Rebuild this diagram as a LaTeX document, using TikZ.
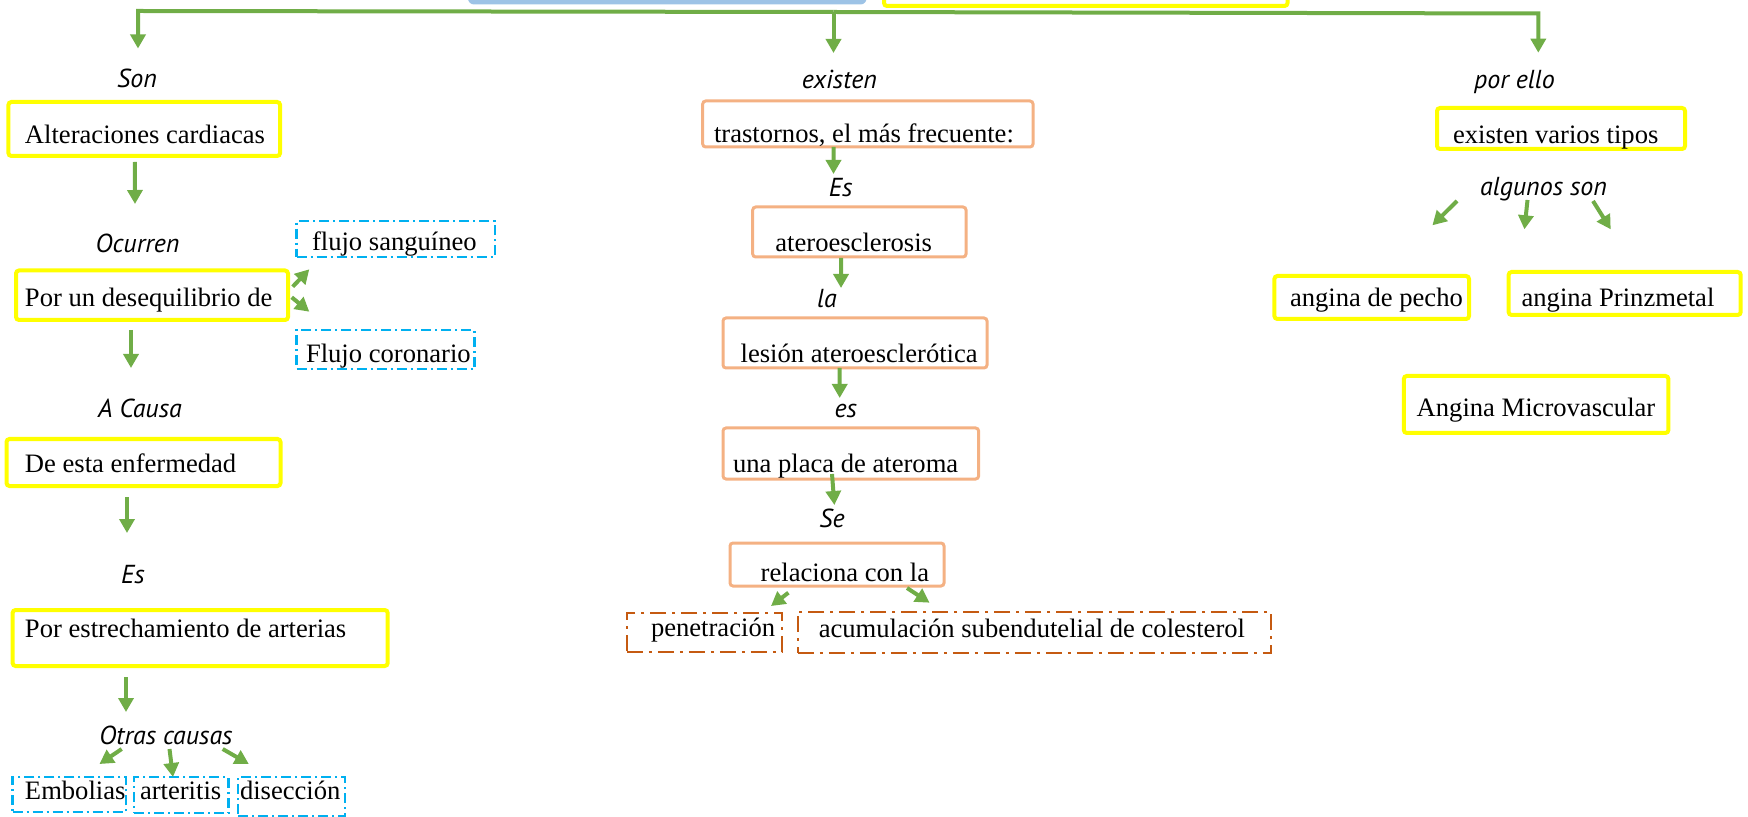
\documentclass[tikz,border=0pt]{standalone}
\usepackage{fontspec}
\setmainfont{Liberation Serif}
\newfontfamily\handfont{PT Sans}
\usetikzlibrary{arrows.meta,calc}
\definecolor{mapyellow}{HTML}{FFFF00}
\definecolor{maporange}{HTML}{F4B183}
\definecolor{mapdkorange}{HTML}{C55A11}
\definecolor{mapblue}{HTML}{00B0F0}
\definecolor{maptitle}{HTML}{9DC3E6}
\definecolor{mapgreen}{HTML}{70AD47}
\newcommand\boxtext[2]{\makebox[#1][l]{#2}}

\begin{document}
\begin{tikzpicture}[x=0.5pt,y=-0.5pt,
  every node/.style={outer sep=0pt},
  concept/.style={anchor=south west,inner ysep=0pt,font=\fontsize{13.3pt}{15pt}\selectfont},
  ybox/.style={concept,draw=mapyellow,line width=2pt,rounded corners=1.5pt},
  obox/.style={concept,draw=maporange,line width=1.5pt,rounded corners=1.5pt},
  bdash/.style={concept,draw=mapblue,line width=1.2pt,dash pattern=on 5pt off 2pt on 1pt off 2pt},
  odash/.style={concept,draw=mapdkorange,line width=1.2pt,dash pattern=on 8pt off 3pt on 1.5pt off 3pt},
  lbl/.style={anchor=base,inner sep=0pt,font=\handfont\itshape\fontsize{13pt}{15pt}\selectfont},
  arr/.style={draw=mapgreen,line width=2pt,-{Triangle[width=7.5pt,length=7pt]}}]
\useasboundingbox (0,0) rectangle (1748,817);
\clip (0,0) rectangle (1748,817);

% title boxes, cut off at the top
\node[fill=maptitle,rounded corners=3pt,anchor=south west,inner sep=0pt,minimum width=199.25pt,minimum height=30pt] (tema) at (468,4.5) {};
\node[draw=mapyellow,line width=2pt,rounded corners=1.5pt,anchor=south west,inner sep=0pt,minimum width=201.75pt,minimum height=30pt] (titulo) at (884,6) {};
\coordinate (hub) at (833.5,12);

% left branch
\node[lbl] (son) at (137,88) {Son};
\node[ybox,text height=20.65pt,text depth=6.35pt,inner xsep=8.3pt] (alt) at (8.4,156) {\boxtext{119.25pt}{Alteraciones cardiacas}};
\node[lbl] (ocurren) at (137.5,253) {Ocurren};
\node[ybox,text height=18.25pt,text depth=6.5pt,inner xsep=4.5pt] (desq) at (16,320) {\boxtext{127pt}{Por un desequilibrio de}};
\node[bdash,text height=14.85pt,text depth=3.15pt,inner xsep=7.7pt] (sang) at (296.6,257) {\boxtext{83.7pt}{flujo sanguíneo}};
\node[bdash,text height=16.5pt,text depth=3pt,inner xsep=4.7pt] (coron) at (296.6,369) {\boxtext{79.5pt}{Flujo coronario}};
\node[lbl] (causa) at (140,418) {A Causa};
\node[ybox,text height=17pt,text depth=6.5pt,inner xsep=9.25pt] (enferm) at (6.5,486) {\boxtext{118.5pt}{De esta enfermedad}};
\node[lbl] (es1) at (133,583) {Es};
\node[ybox,text height=13.85pt,text depth=14.15pt,inner xsep=6.2pt] (estrech) at (12.6,666) {\boxtext{175.15pt}{Por estrechamiento de arterias}};
\node[lbl] (otras) at (166,744) {Otras causas};
\node[bdash,text height=11pt,text depth=6.5pt,inner xsep=6.2pt] (embol) at (12.6,812) {\boxtext{44.3pt}{Embolias}};
\node[bdash,text height=11pt,text depth=7pt,inner xsep=3pt] (arter) at (134,813) {\boxtext{41.25pt}{arteritis}};
\node[bdash,text height=11pt,text depth=8.5pt,inner xsep=1pt] (disec) at (238,816) {\boxtext{51.5pt}{disección}};

% middle branch
\node[lbl] (existen) at (839.5,89) {existen};
\node[obox,text height=20.85pt,text depth=2.15pt,inner xsep=5.65pt] (trast) at (702.7,147) {\boxtext{153.85pt}{trastornos, el más frecuente:}};
\node[lbl] (es2) at (840.6,197) {Es};
\node[obox,text height=22.35pt,text depth=2.65pt,inner xsep=11.35pt] (atero) at (752.7,257) {\boxtext{83.95pt}{ateroesclerosis}};
\node[lbl] (la) at (827,308) {la};
\node[obox,text height=22.5pt,text depth=2.5pt,inner xsep=8.8pt] (lesion) at (723,368) {\boxtext{114.4pt}{lesión ateroesclerótica}};
\node[lbl] (es3) at (845.7,418) {es};
\node[obox,text height=22.35pt,text depth=3.15pt,inner xsep=5pt] (placa) at (723,479) {\boxtext{117.8pt}{una placa de ateroma}};
\node[lbl] (se) at (832,527) {Se};
\node[obox,text height=19.35pt,text depth=2.15pt,inner xsep=15.35pt] (relac) at (730,586) {\boxtext{76.3pt}{relaciona con la}};
\node[odash,text height=12pt,text depth=7.5pt,inner xsep=12.1pt] (penet) at (626.8,651.7) {\boxtext{53.4pt}{penetración}};
\node[odash,text height=12.65pt,text depth=7.85pt,inner xsep=10.5pt] (acum) at (797.8,652.7) {\boxtext{215.6pt}{acumulación subendutelial de colesterol}};

% right branch
\node[lbl] (porello) at (1514.5,89) {por ello};
\node[ybox,text height=17.65pt,text depth=2.85pt,inner xsep=8pt] (tipos) at (1437,149) {\boxtext{108pt}{existen varios tipos}};
\node[lbl] (algunos) at (1543.5,196) {algunos son};
\node[ybox,text height=15.5pt,text depth=6pt,inner xsep=7.8pt] (pecho) at (1274.4,319) {\boxtext{81.7pt}{angina de pecho}};
\node[ybox,text height=17.35pt,text depth=4.15pt,inner xsep=6.5pt] (prinz) at (1508.6,315) {\boxtext{103.05pt}{angina Prinzmetal}};
\node[ybox,text height=20.35pt,text depth=8.15pt,inner xsep=6.45pt] (micro) at (1403.8,433) {\boxtext{119.4pt}{Angina Microvascular}};

% connectors
\draw[arr] (hub) -- ($(son.base)+(1,-77)$) -- ($(son.base)+(1,-39.5)$);
\draw[arr] (hub) -- ($(existen.base)+(-6,-36)$);
\draw[arr] (hub) -- ($(porello.base)+(23.8,-75.5)$) -- ($(porello.base)+(23.8,-36.3)$);

\draw[arr] ($(alt.south)+(-9.45,6)$) -- ($(ocurren.base)+(-2.5,-49)$);
\draw[arr] ($(desq.south)+(-21,10)$) -- ($(causa.base)+(-9,-50)$);
\draw[arr] ($(desq.east)+(4.7,-8.55)$) -- ($(sang.south west)+(12.7,12.3)$);
\draw[arr] ($(desq.east)+(3.7,2.05)$) -- ($(coron.north west)+(12.7,-18.3)$);
\draw[arr] ($(enferm.south)+(-16.5,11)$) -- ($(es1.base)+(-6,-50)$);
\draw[arr] ($(estrech.south)+(-74.15,11)$) -- ($(otras.base)+(-40,-32)$);
\draw[arr] ($(otras.base)+(-44.3,5)$) -- ($(embol.north)+(30.2,-13)$);
\draw[arr] ($(otras.base)+(3.5,5)$) -- ($(arter.north)+(-8.25,0)$);
\draw[arr] ($(otras.base)+(56.7,5)$) -- ($(disec.north)+(-42.7,-13)$);

\draw[arr] ($(trast.south)+(-34.35,0)$) -- ($(es2.base)+(-7.1,-23)$);
\draw[arr] ($(atero.south)+(-18.35,1)$) -- ($(la.base)+(14,-20)$);
\draw[arr] ($(lesion.south)+(-15.3,0)$) -- ($(es3.base)+(-6,-20)$);
\draw[arr] ($(placa.south)+(-18.8,-5)$) -- ($(se.base)+(2.4,-22)$);
\draw[arr] ($(relac.south)+(-48.6,6.7)$) -- ($(penet.north)+(66.6,-6.7)$);
\draw[arr] ($(relac.south)+(70,2)$) -- ($(acum.north)+(-104.9,-9)$);

\draw[arr] ($(algunos.base)+(-86.5,5)$) -- ($(pecho.north)+(60.7,-50.7)$);
\draw[arr] ($(algunos.base)+(-16,4)$) -- ($(micro.north)+(-11.7,-146.7)$);
\draw[arr] ($(algunos.base)+(49.5,5)$) -- ($(prinz.north)+(-13.95,-42.7)$);
\end{tikzpicture}
\end{document}
